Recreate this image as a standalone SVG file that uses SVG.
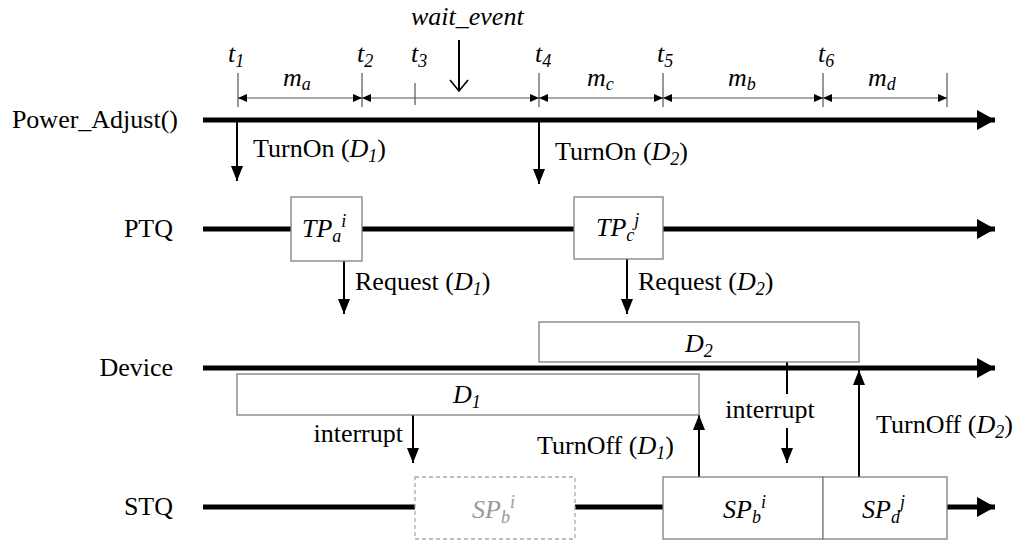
<svg xmlns="http://www.w3.org/2000/svg" width="1024" height="549" viewBox="0 0 1024 549">
<defs>
<style>
text{font-family:"Liberation Serif","Times New Roman",serif;font-size:26px;fill:#000}
.it{font-style:italic}
.sub{font-size:18px}
.main{stroke:#000;stroke-width:5;fill:none}
.arr{stroke:#000;stroke-width:2;fill:none}
.dim{stroke:#555;stroke-width:1.2;fill:none}
.box{fill:#fff;stroke:#7f7f7f;stroke-width:1.3}
.dbox{fill:#fff;stroke:#aaa;stroke-width:1.3;stroke-dasharray:4 3}
</style>
<marker id="big" markerUnits="userSpaceOnUse" markerWidth="22" markerHeight="22" refX="20" refY="11" orient="auto"><path d="M2,1 L20,11 L2,21 Z" fill="#000"/></marker>
<marker id="ah" markerUnits="userSpaceOnUse" markerWidth="16" markerHeight="14" refX="15" refY="7" orient="auto"><path d="M0,1 L15,7 L0,13 Z" fill="#000"/></marker>
<marker id="da" markerUnits="userSpaceOnUse" markerWidth="10" markerHeight="10" refX="9" refY="5" orient="auto-start-reverse"><path d="M0,1 L9,5 L0,9 Z" fill="#000"/></marker>
</defs>

<g id="timeline">
<g class="dim">
<line x1="238" y1="73" x2="238" y2="107"/>
<line x1="362" y1="73" x2="362" y2="107"/>
<line x1="415" y1="83" x2="415" y2="105"/>
<line x1="539" y1="73" x2="539" y2="107"/>
<line x1="663" y1="73" x2="663" y2="107"/>
<line x1="823" y1="73" x2="823" y2="107"/>
<line x1="947" y1="73" x2="947" y2="107"/>
<line x1="238" y1="98" x2="362" y2="98" marker-start="url(#da)" marker-end="url(#da)"/>
<line x1="362" y1="98" x2="539" y2="98" marker-start="url(#da)" marker-end="url(#da)"/>
<line x1="539" y1="98" x2="663" y2="98" marker-start="url(#da)" marker-end="url(#da)"/>
<line x1="663" y1="98" x2="823" y2="98" marker-start="url(#da)" marker-end="url(#da)"/>
<line x1="823" y1="98" x2="947" y2="98" marker-start="url(#da)" marker-end="url(#da)"/>
</g>
<text class="it" x="228" y="62">t<tspan class="sub" dy="5">1</tspan></text>
<text class="it" x="357" y="62">t<tspan class="sub" dy="5">2</tspan></text>
<text class="it" x="411" y="62">t<tspan class="sub" dy="5">3</tspan></text>
<text class="it" x="535" y="62">t<tspan class="sub" dy="5">4</tspan></text>
<text class="it" x="657" y="62">t<tspan class="sub" dy="5">5</tspan></text>
<text class="it" x="818" y="62">t<tspan class="sub" dy="5">6</tspan></text>
<text class="it" x="283" y="86">m<tspan class="sub" dy="4">a</tspan></text>
<text class="it" x="587" y="86">m<tspan class="sub" dy="4">c</tspan></text>
<text class="it" x="728" y="86">m<tspan class="sub" dy="4">b</tspan></text>
<text class="it" x="868" y="86">m<tspan class="sub" dy="4">d</tspan></text>
<text class="it" x="411" y="25">wait_event</text>
</g>

<g id="lanes">
<text x="178" y="128" text-anchor="end">Power_Adjust()</text>
<text x="173" y="237" text-anchor="end">PTQ</text>
<text x="173" y="376" text-anchor="end">Device</text>
<text x="173" y="515" text-anchor="end">STQ</text>
<line class="main" x1="203" y1="120" x2="995" y2="120" marker-end="url(#big)"/>
<line class="main" x1="203" y1="229" x2="995" y2="229" marker-end="url(#big)"/>
<line class="main" x1="203" y1="368" x2="995" y2="368" marker-end="url(#big)"/>
<line class="main" x1="203" y1="507" x2="995" y2="507" marker-end="url(#big)"/>
</g>

<g id="connectors">
<line class="arr" x1="459" y1="40" x2="459" y2="91" stroke-width="1.6"/>
<path d="M450,80 L459,91 L468,80" fill="none" stroke="#000" stroke-width="1.6"/>
<line class="arr" x1="237" y1="121" x2="237" y2="181" marker-end="url(#ah)"/>
<line class="arr" x1="539" y1="121" x2="539" y2="184" marker-end="url(#ah)"/>
<line class="arr" x1="344" y1="261" x2="344" y2="314" marker-end="url(#ah)"/>
<line class="arr" x1="627" y1="259" x2="627" y2="314" marker-end="url(#ah)"/>
<line class="arr" x1="413" y1="415" x2="413" y2="463" marker-end="url(#ah)"/>
<line class="arr" x1="699" y1="477" x2="699" y2="415" marker-end="url(#ah)"/>
<line class="arr" x1="787" y1="362" x2="787" y2="394"/>
<line class="arr" x1="787" y1="428" x2="787" y2="463" marker-end="url(#ah)"/>
<line class="arr" x1="859" y1="477" x2="859" y2="370" marker-end="url(#ah)"/>
<text x="253" y="157">TurnOn (<tspan class="it">D</tspan><tspan class="sub it" dy="5">1</tspan><tspan dy="-5">)</tspan></text>
<text x="555" y="160">TurnOn (<tspan class="it">D</tspan><tspan class="sub it" dy="5">2</tspan><tspan dy="-5">)</tspan></text>
<text x="355" y="290">Request (<tspan class="it">D</tspan><tspan class="sub it" dy="5">1</tspan><tspan dy="-5">)</tspan></text>
<text x="638" y="290">Request (<tspan class="it">D</tspan><tspan class="sub it" dy="5">2</tspan><tspan dy="-5">)</tspan></text>
<text x="403" y="442" text-anchor="end">interrupt</text>
<text x="537" y="454">TurnOff (<tspan class="it">D</tspan><tspan class="sub it" dy="5">1</tspan><tspan dy="-5">)</tspan></text>
<text x="770" y="418" text-anchor="middle">interrupt</text>
<text x="876" y="433">TurnOff (<tspan class="it">D</tspan><tspan class="sub it" dy="5">2</tspan><tspan dy="-5">)</tspan></text>
</g>

<g id="TPa">
<rect class="box" x="291" y="197" width="71" height="64"/>
<text class="it" x="302" y="237">TP<tspan class="sub" dy="5">a</tspan><tspan class="sub" dy="-15">i</tspan></text>
</g>
<g id="TPc">
<rect class="box" x="574" y="197" width="89" height="62"/>
<text class="it" x="596" y="236">TP<tspan class="sub" dy="5">c</tspan><tspan class="sub" dy="-15">j</tspan></text>
</g>
<g id="D2">
<rect class="box" x="539" y="322" width="320" height="40"/>
<text class="it" x="685" y="352">D<tspan class="sub" dy="5">2</tspan></text>
</g>
<g id="D1">
<rect class="box" x="237" y="374" width="462" height="41"/>
<text class="it" x="453" y="403">D<tspan class="sub" dy="5">1</tspan></text>
</g>
<g id="SPb-ghost">
<rect class="dbox" x="415" y="477" width="160" height="62"/>
<text class="it" x="472" y="518" style="fill:#999">SP<tspan class="sub" dy="5">b</tspan><tspan class="sub" dy="-15">i</tspan></text>
</g>
<g id="SPb">
<rect class="box" x="663" y="477" width="160" height="62"/>
<text class="it" x="723" y="518">SP<tspan class="sub" dy="5">b</tspan><tspan class="sub" dy="-15">i</tspan></text>
</g>
<g id="SPd">
<rect class="box" x="823" y="477" width="124" height="62"/>
<text class="it" x="862" y="518">SP<tspan class="sub" dy="5">d</tspan><tspan class="sub" dy="-15">j</tspan></text>
</g>
</svg>
